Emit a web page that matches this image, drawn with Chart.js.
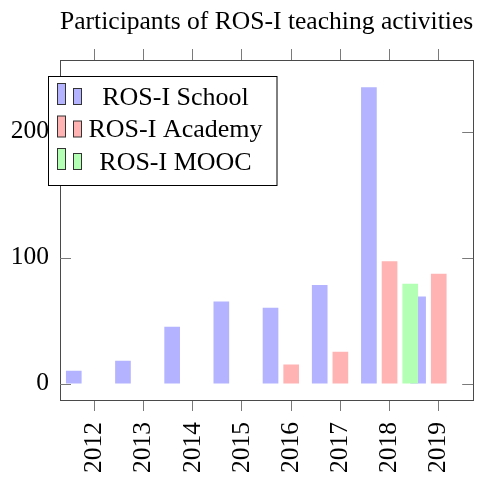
<!DOCTYPE html>
<html>
<head>
<meta charset="utf-8">
<script src="https://cdn.jsdelivr.net/npm/chart.js@4/dist/chart.umd.min.js"></script>
<style>
  html, body { margin: 0; padding: 0; background: #fff; }
  #wrap { width: 481px; height: 477px; }
</style>
</head>
<body>
<div id="wrap"><canvas id="chart"></canvas></div>
<script>
const years = [2012, 2013, 2014, 2015, 2016, 2017, 2018, 2019];
const school = [10, 18, 45, 65, 60, 78, 235, 69];
const academy = [null, null, null, null, 15, 25, 97, 87];
const mooc = [null, null, null, null, null, null, 79, null];
const yTicks = [0, 100, 200];
const seriesNames = ["ROS-I School", "ROS-I Academy", "ROS-I MOOC"];
const chartTitle = "Participants of ROS-I teaching activities";

// pgfplots-like look
const fills = ["rgb(179,179,255)", "rgb(255,179,179)", "rgb(179,255,179)"];
const shift = [-0.42, 0, 0.42];   // bar offset per series, in years
const serif = "'Liberation Serif', 'DejaVu Serif', serif";
const frame = "#4a4a4a";
const tickCol = "#7a7a7a";

function points(values, s) {
  return years.map((yr, i) => ({ x: yr + s, y: values[i] })).filter(p => p.y !== null);
}

const setYearTicks = s => { s.ticks = years.map(v => ({ value: v })); };

// y ticks pointing inwards on both sides + boxed legend inside the plot
const decorations = {
  id: "decorations",
  afterDraw(chart) {
    const ctx = chart.ctx, a = chart.chartArea, y = chart.scales.y;
    ctx.save();
    ctx.strokeStyle = tickCol;
    ctx.lineWidth = 1;
    yTicks.forEach(v => {
      const py = Math.round(y.getPixelForValue(v)) + 0.5;
      ctx.beginPath();
      ctx.moveTo(a.left, py); ctx.lineTo(a.left + 11, py);
      ctx.moveTo(a.right - 11, py); ctx.lineTo(a.right, py);
      ctx.stroke();
    });

    const left = a.left - 11.5, top = a.top + 16.5, w = 228.5, h = 109;
    ctx.fillStyle = "#fff";
    ctx.fillRect(left, top, w, h);
    ctx.strokeStyle = "#000";
    ctx.strokeRect(left, top, w, h);
    ctx.font = "26px " + serif;
    ctx.textAlign = "center";
    ctx.textBaseline = "alphabetic";
    chart.data.datasets.forEach((ds, i) => {
      const base = top + 28 + i * 32.5;
      ctx.fillStyle = ds.backgroundColor;
      ctx.strokeStyle = "#333";
      ctx.fillRect(left + 9, base - 21, 8, 21);
      ctx.strokeRect(left + 9, base - 21, 8, 21);
      ctx.fillRect(left + 25, base - 16, 8, 16);
      ctx.strokeRect(left + 25, base - 16, 8, 16);
      ctx.fillStyle = "#000";
      ctx.fillText(ds.label, left + 127, base);
    });
    ctx.restore();
  }
};

const datasets = [school, academy, mooc].map((vals, i) => ({
  label: seriesNames[i],
  data: points(vals, shift[i]),
  backgroundColor: fills[i],
  borderWidth: 0,
  barThickness: 15,
  grouped: false,
  order: i === 2 ? 0 : i + 1
}));

new Chart(document.getElementById("chart"), {
  type: "bar",
  data: { datasets: datasets },
  options: {
    responsive: true,
    maintainAspectRatio: false,
    animation: false,
    layout: { padding: 0 },
    plugins: { legend: { display: false }, tooltip: { enabled: false } },
    scales: {
      x: {
        type: "linear",
        position: "bottom",
        offset: false,
        min: 2011.3,
        max: 2019.7,
        afterBuildTicks: setYearTicks,
        afterFit: s => { s.height = 77; },
        grid: { drawOnChartArea: false, drawTicks: true, tickLength: 11, color: tickCol, offset: false },
        border: { display: true, color: frame, width: 1 },
        ticks: {
          autoSkip: false,
          minRotation: 90,
          maxRotation: 90,
          padding: 11,
          color: "#000",
          font: { family: serif, size: 25.5 },
          callback: v => String(v)
        }
      },
      x2: {
        type: "linear",
        axis: "x",
        position: "top",
        offset: false,
        min: 2011.3,
        max: 2019.7,
        afterBuildTicks: setYearTicks,
        afterFit: s => { s.height = 60; },
        grid: { drawOnChartArea: false, drawTicks: true, tickLength: 11, color: tickCol, offset: false },
        border: { display: true, color: frame, width: 1 },
        ticks: { display: false },
        title: {
          display: true,
          text: chartTitle,
          color: "#000",
          font: { family: serif, size: 26, lineHeight: 1.2 },
          padding: { top: 7, bottom: 0 }
        }
      },
      y: {
        type: "linear",
        position: "left",
        min: -13,
        max: 257,
        afterBuildTicks: s => { s.ticks = yTicks.map(v => ({ value: v })); },
        afterFit: s => { s.width = 60; },
        grid: { drawOnChartArea: false, drawTicks: false },
        border: { display: true, color: frame, width: 1 },
        ticks: { padding: 11, color: "#000", font: { family: serif, size: 25.5 } }
      },
      y2: {
        type: "linear",
        axis: "y",
        position: "right",
        min: -13,
        max: 257,
        afterFit: s => { s.width = 7; },
        grid: { drawOnChartArea: false, drawTicks: false },
        border: { display: true, color: frame, width: 1 },
        ticks: { display: false }
      }
    }
  },
  plugins: [decorations]
});
</script>
</body>
</html>
